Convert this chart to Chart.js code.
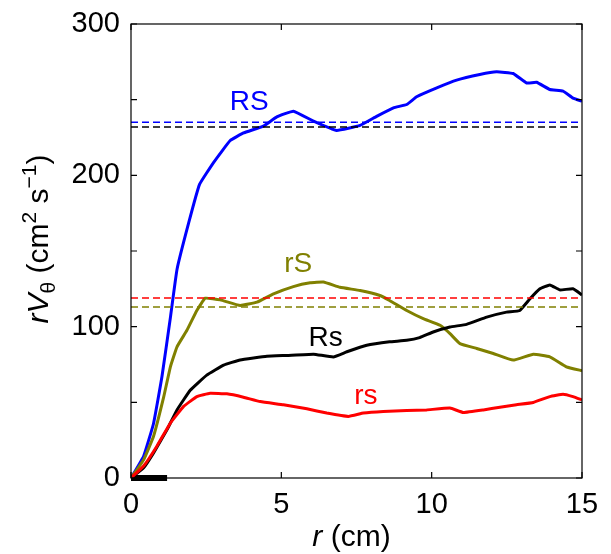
<!DOCTYPE html>
<html>
<head>
<meta charset="utf-8">
<script src="https://cdn.jsdelivr.net/npm/chart.js@4"></script>
<style>
  html, body { margin: 0; padding: 0; background: #fff; }
  #wrap { width: 611px; height: 554px; }
</style>
</head>
<body>
<div id="wrap"><canvas id="graph"></canvas></div>
<script>
// values
const rsX = [0, 0.42, 0.86, 1.31, 1.75, 2.19, 2.63, 3.19, 3.74, 4.3, 5.07, 5.85, 6.51, 7.23, 7.73, 8.39, 9.17, 9.83, 10.61, 11.05, 11.72, 12.27, 12.82, 13.38, 13.93, 14.37, 14.7, 15];
const rsY = [0, 7.9, 21, 36.3, 47.3, 53.8, 56, 55.6, 53.4, 50.5, 48.4, 45.7, 42.9, 40.7, 42.9, 44, 44.6, 45, 46.2, 43.3, 45, 46.8, 48.4, 49.9, 53.8, 55.4, 53.8, 51.6];

const RsX = [0, 0.42, 0.75, 1.2, 1.53, 1.97, 2.52, 3.08, 3.63, 4.52, 5.18, 6.07, 6.73, 7.18, 7.84, 8.6, 9.17, 9.6, 10.05, 10.61, 11.16, 11.83, 12.49, 12.93, 13.27, 13.6, 13.93, 14.26, 14.7, 15];
const RsY = [0, 6.8, 16.6, 32, 45, 58, 68, 74.6, 78, 80.5, 81, 81.8, 80, 83.4, 87.7, 90, 91, 92.8, 96.5, 99.8, 101.5, 106.3, 109.6, 110.7, 118.4, 125, 127.6, 124.3, 125, 121];

const rSX = [0, 0.42, 0.75, 1.09, 1.31, 1.53, 1.86, 2.19, 2.47, 2.97, 3.63, 4.19, 4.74, 5.4, 5.96, 6.4, 6.95, 7.62, 8.28, 8.6, 9.17, 9.72, 10.28, 10.61, 10.94, 11.5, 12.05, 12.71, 13.38, 13.93, 14.48, 15];
const rSY = [0, 12, 27.6, 53.8, 73.5, 86.7, 97.6, 110.7, 118.8, 117.7, 114, 116.2, 121.7, 126.5, 129, 129.5, 126, 123.9, 120.6, 117.3, 110.7, 105.3, 100.9, 95.4, 88.8, 85.6, 82.3, 77.9, 81.8, 80.1, 73.5, 70.9];

const RSX = [0, 0.42, 0.75, 1.03, 1.31, 1.53, 1.92, 2.28, 2.75, 3.3, 3.74, 4.4, 4.85, 5.4, 6.07, 6.84, 7.62, 8.17, 8.73, 9.17, 9.5, 10.17, 10.83, 11.6, 12.16, 12.71, 13.16, 13.49, 13.93, 14.37, 14.7, 15];
const RSY = [0, 14.4, 36, 67, 106, 137.8, 168.7, 194, 208.6, 223, 228, 232.5, 238.6, 242.4, 235.8, 229.7, 233, 239, 244.6, 246.8, 251.9, 257.8, 262.9, 266.6, 268.4, 267.3, 261, 261.5, 256.7, 255.6, 251, 249];

// dashed reference levels
const meanRS = 235;
const meanRsBlack = 232;
const meanrs = 119;
const meanrS = 113;

// short thick bar on the axis
const barX = [0, 1.2];
const barY = [0, 0];

const xTicks = [0, 5, 10, 15];
const yLabelTicks = [0, 100, 200, 300];

const BLUE = '#0000ff', OLIVE = '#808000', RED = '#ff0000', BLACK = '#000000';

const pts = (xs, ys) => xs.map((x, i) => ({x: x, y: ys[i]}));
const level = (v) => [{x: 0, y: v}, {x: 15, y: v}];

const curve = (xs, ys, color) => ({
    data: pts(xs, ys),
    borderColor: color,
    borderWidth: 3,
    pointRadius: 0,
    tension: 0.1,
    fill: false
});
const dashed = (v, color) => ({
    data: level(v),
    borderColor: color,
    borderWidth: 1.5,
    borderDash: [7, 4],
    pointRadius: 0,
    fill: false
});

const curveLabels = [
    {text: 'RS', x: 3.93, y: 248.4, color: BLUE},
    {text: 'rS', x: 5.56, y: 141.1, color: OLIVE},
    {text: 'Rs', x: 6.47, y: 92.6, color: BLACK},
    {text: 'rs', x: 7.81, y: 54.0, color: RED}
];

const FONT = '"Liberation Sans", Arial, Helvetica, sans-serif';

// draws a run of text pieces, centred on x, baseline y
function drawRich(ctx, pieces, x, y) {
    let total = 0;
    pieces.forEach(p => { ctx.font = p.font; total += ctx.measureText(p.text).width; });
    let cx = x - total / 2;
    ctx.textAlign = 'left';
    ctx.textBaseline = 'alphabetic';
    pieces.forEach(p => {
        ctx.font = p.font;
        ctx.fillText(p.text, cx, y + (p.dy || 0));
        cx += ctx.measureText(p.text).width;
    });
}

const framePlugin = {
    id: 'frame',
    afterDatasetsDraw(chart) {
        const ctx = chart.ctx;
        const a = chart.chartArea;
        const xs = chart.scales.x, ys = chart.scales.y;
        ctx.save();
        ctx.strokeStyle = '#000';
        ctx.lineWidth = 1.2;
        ctx.strokeRect(a.left, a.top, a.right - a.left, a.bottom - a.top);
        const tl = 6;
        ctx.beginPath();
        xs.ticks.forEach(t => {
            const px = xs.getPixelForValue(t.value);
            ctx.moveTo(px, a.bottom); ctx.lineTo(px, a.bottom - tl);
            ctx.moveTo(px, a.top); ctx.lineTo(px, a.top + tl);
        });
        ys.ticks.forEach(t => {
            const py = ys.getPixelForValue(t.value);
            ctx.moveTo(a.left, py); ctx.lineTo(a.left + tl, py);
            ctx.moveTo(a.right, py); ctx.lineTo(a.right - tl, py);
        });
        ctx.stroke();

        // curve names
        ctx.font = '28px ' + FONT;
        ctx.textAlign = 'center';
        ctx.textBaseline = 'middle';
        curveLabels.forEach(l => {
            ctx.fillStyle = l.color;
            ctx.fillText(l.text, xs.getPixelForValue(l.x), ys.getPixelForValue(l.y));
        });

        // axis titles
        ctx.fillStyle = '#000';
        const big = '30px ' + FONT, it = 'italic 30px ' + FONT, small = '21px ' + FONT;
        drawRich(ctx, [
            {text: 'r', font: it},
            {text: ' (cm)', font: big}
        ], (a.left + a.right) / 2 - 5, 546);

        ctx.translate(48, (a.top + a.bottom) / 2 - 12);
        ctx.rotate(-Math.PI / 2);
        drawRich(ctx, [
            {text: 'r', font: it},
            {text: 'V', font: it},
            {text: '\u03b8', font: small, dy: 7},
            {text: ' (cm', font: big},
            {text: '2', font: small, dy: -12},
            {text: ' s', font: big},
            {text: '\u22121', font: small, dy: -12},
            {text: ')', font: big}
        ], 0, 0);
        ctx.restore();
    }
};

const ctx = document.getElementById('graph').getContext('2d');
const chart = new Chart(ctx, {
    type: 'line',
    data: {
        datasets: [
            dashed(meanRS, BLUE),
            dashed(meanRsBlack, BLACK),
            dashed(meanrs, RED),
            dashed(meanrS, OLIVE),
            curve(rsX, rsY, RED),
            curve(RsX, RsY, BLACK),
            curve(rSX, rSY, OLIVE),
            curve(RSX, RSY, BLUE),
            {
                data: pts(barX, barY),
                borderColor: BLACK,
                borderWidth: 6,
                pointRadius: 0,
                clip: false
            }
        ]
    },
    options: {
        responsive: true,
        maintainAspectRatio: false,
        animation: false,
        layout: {padding: {top: 24, right: 29, left: 0, bottom: 0}},
        plugins: {
            legend: {display: false},
            tooltip: {enabled: false}
        },
        scales: {
            x: {
                type: 'linear',
                min: 0,
                max: 15,
                grid: {display: false, drawTicks: false},
                border: {display: false},
                ticks: {
                    stepSize: 5,
                    padding: 10,
                    color: '#000',
                    font: {size: 29, family: FONT},
                    maxRotation: 0,
                    callback: v => xTicks.includes(v) ? String(v) : ''
                },
                afterFit: s => {
                    s.height = 76;
                    s.paddingLeft = 0; s.paddingRight = 0;
                }
            },
            y: {
                min: 0,
                max: 300,
                grid: {display: false, drawTicks: false},
                border: {display: false},
                ticks: {
                    stepSize: 50,
                    padding: 11,
                    color: '#000',
                    font: {size: 29, family: FONT},
                    callback: v => yLabelTicks.includes(v) ? String(v) : ''
                },
                afterFit: s => {
                    s.width = 131;
                    s.paddingTop = 0; s.paddingBottom = 0;
                }
            }
        }
    },
    plugins: [framePlugin]
});
</script>
</body>
</html>
